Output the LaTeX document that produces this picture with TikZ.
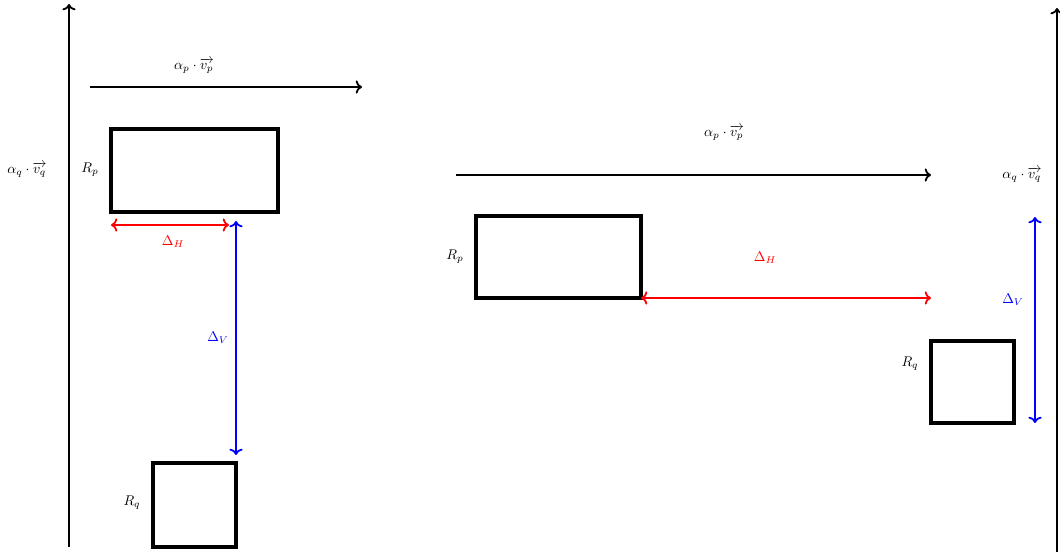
\documentclass[tikz,border=0pt]{standalone}
\usepackage{amsmath,amssymb}
\usepackage{xcolor}
\usetikzlibrary{arrows.meta,positioning,calc}

\tikzset{
  axisline/.style={->,line width=1.3pt},
  regionbox/.style={draw,line width=2.8pt,inner sep=0pt,outer sep=0pt},
  gaph/.style={<->,red,line width=1.3pt},
  gapv/.style={<->,blue,line width=1.3pt}
}

\begin{document}
\begin{tikzpicture}[x=0.025cm,y=-0.025cm]
\useasboundingbox (0,0) rectangle (1060,552);
% left case
\coordinate (axL0) at (69,547);
\coordinate (axL1) at (69,4);
\draw[axisline] (axL0) -- (axL1);
\coordinate (vpL0) at (90,87);
\coordinate (vpL1) at (362,87);
\draw[axisline] (vpL0) -- (vpL1);
\node (vpLlab) at (194,66) {$\alpha_p\cdot\overrightarrow{v_p}$};
\node (vqLlab) at (27,170) {$\alpha_q\cdot\overrightarrow{v_q}$};
\node[regionbox,minimum width=4.175cm,minimum height=2.075cm] (RpL) at (194.5,170.5) {};
\node[regionbox,minimum width=2.075cm,minimum height=2.1cm] (RqL) at (194.5,505) {};
\node (RpLlab) at (90,170) {$R_p$};
\node (RqLlab) at (132,503) {$R_q$};
\coordinate (dhL0) at (111,225);
\coordinate (dhL1) at (229,225);
\draw[gaph] (dhL0) -- (dhL1);
\node[red] (dhLlab) at (173,242) {$\Delta_H$};
\coordinate (dvL0) at (236,221);
\coordinate (dvL1) at (236,455);
\draw[gapv] (dvL0) -- (dvL1);
\node[blue] (dvLlab) at (218,338) {$\Delta_V$};
% right case
\coordinate (axR0) at (1057,552);
\coordinate (axR1) at (1057,8);
\draw[axisline] (axR0) -- (axR1);
\coordinate (vpR0) at (456,175);
\coordinate (vpR1) at (931,175);
\draw[axisline] (vpR0) -- (vpR1);
\node (vpRlab) at (724,133) {$\alpha_p\cdot\overrightarrow{v_p}$};
\node (vqRlab) at (1022,175) {$\alpha_q\cdot\overrightarrow{v_q}$};
\node[regionbox,minimum width=4.125cm,minimum height=2.05cm] (RpR) at (558.5,257) {};
\node[regionbox,minimum width=2.075cm,minimum height=2.05cm] (RqR) at (972.5,382) {};
\node (RpRlab) at (455,257) {$R_p$};
\node (RqRlab) at (910,364) {$R_q$};
\coordinate (dhR1) at (931,298);
\draw[gaph] (RpR.south east) -- (dhR1);
\node[red] (dhRlab) at (765,258) {$\Delta_H$};
\coordinate (dvR0) at (1035,217);
\coordinate (dvR1) at (1035,423);
\draw[gapv] (dvR0) -- (dvR1);
\node[blue] (dvRlab) at (1013,300) {$\Delta_V$};
\end{tikzpicture}
\end{document}
